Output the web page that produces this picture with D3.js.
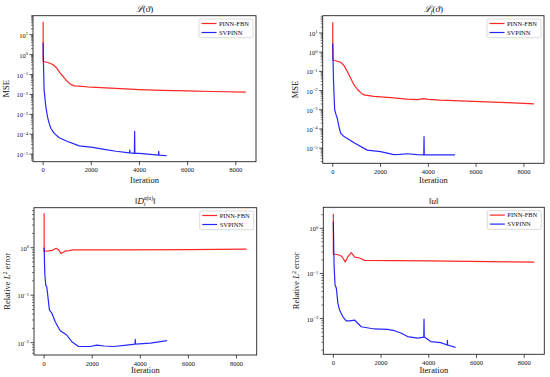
<!DOCTYPE html>
<html><head><meta charset="utf-8">
<script src="https://cdn.jsdelivr.net/npm/d3@7"></script>
<style>body{margin:0;background:#fff} text{font-family:"Liberation Serif","DejaVu Serif",serif;fill:#111}</style>
</head><body><svg id="c" width="550" height="377"></svg>
<script>
// ---------- data ----------
const xTicks = [0, 2000, 4000, 6000, 8000];
const seriesNames = ["PINN-FBN", "SVPINN"];

// Panel 1: L(theta), MSE
const lossIterRed = [0, 0, 10, 200, 400, 550, 700, 850, 1000, 1150, 1300, 1500, 2000, 3000, 4000, 5000, 6000, 7000, 8420];
const lossRed = [45, 0.48, 0.45, 0.40, 0.32, 0.22, 0.12, 0.075, 0.045, 0.032, 0.027, 0.026, 0.023, 0.020, 0.0175, 0.016, 0.015, 0.014, 0.013];
const lossIterBlue = [0, 15, 40, 110, 180, 250, 320, 460, 670, 940, 1500, 2060, 2600, 3030, 3590, 3600, 3610, 3790, 3800, 3810, 4000, 4790, 4800, 4810, 5140];
const lossBlue = [4, 0.3, 0.017, 0.0025, 7.6e-4, 3.5e-4, 2e-4, 1.1e-4, 6.6e-5, 4.7e-5, 2.6e-5, 2.2e-5, 1.7e-5, 1.4e-5, 1.17e-5, 1.6e-5, 1.15e-5, 1.1e-5, 1.4e-4, 1.1e-5, 1.1e-5, 9e-6, 1.4e-5, 9e-6, 8.3e-6];

// Panel 2: L_f(theta), MSE
const lossFIterRed = [0, 0, 10, 330, 470, 610, 750, 890, 1030, 1170, 1300, 1720, 2420, 3100, 3530, 3800, 4000, 4500, 5890, 7280, 8420];
const lossFRed = [36, 0.39, 0.39, 0.30, 0.20, 0.098, 0.044, 0.0195, 0.0117, 0.0078, 0.0059, 0.0050, 0.0043, 0.0036, 0.0034, 0.0038, 0.0035, 0.0032, 0.00275, 0.00234, 0.0020];
const lossFIterBlue = [0, 30, 80, 140, 190, 260, 330, 470, 610, 890, 1440, 2000, 2560, 2800, 3110, 3530, 3810, 3820, 3830, 3940, 5120];
const lossFBlue = [2.9, 0.035, 1e-3, 5.4e-4, 3.6e-4, 1.3e-4, 6e-5, 4e-5, 3.2e-5, 1.9e-5, 7.9e-6, 6.6e-6, 4.6e-6, 4.7e-6, 5.1e-6, 4.6e-6, 4.5e-6, 4e-5, 4.5e-6, 4.5e-6, 4.5e-6];

// Panel 3: ||D_t^alpha||, relative L2 error
const derivIterRed = [0, 0, 10, 200, 350, 500, 600, 700, 800, 900, 1050, 1200, 3000, 6000, 8420];
const derivRed = [5.3, 0.82, 0.85, 0.86, 0.88, 0.97, 0.9, 0.76, 0.8, 0.86, 0.87, 0.9, 0.9, 0.91, 0.93];
const derivIterBlue = [0, 30, 70, 110, 150, 220, 320, 460, 670, 940, 1150, 1430, 1920, 2190, 2500, 2890, 3440, 3780, 3790, 3800, 4420, 5110];
const derivBlue = [1.0, 0.27, 0.16, 0.15, 0.10, 0.049, 0.042, 0.0275, 0.0178, 0.0145, 0.0105, 0.0083, 0.0083, 0.0089, 0.0085, 0.0083, 0.0089, 0.0093, 0.0118, 0.0093, 0.0098, 0.011];

// Panel 4: ||u||, relative L2 error
const uIterRed = [0, 0, 10, 200, 350, 500, 620, 750, 900, 1100, 1300, 4000, 8420];
const uRed = [2.1, 0.27, 0.27, 0.26, 0.24, 0.18, 0.24, 0.29, 0.23, 0.22, 0.195, 0.19, 0.178];
const uIterBlue = [0, 30, 70, 125, 190, 260, 400, 540, 680, 890, 1170, 1720, 2280, 2560, 2830, 3110, 3530, 3790, 3800, 3810, 4080, 4500, 4770, 4780, 4790, 5120];
const uBlue = [1.4, 0.155, 0.056, 0.047, 0.022, 0.0155, 0.011, 0.0089, 0.0089, 0.0093, 0.0066, 0.0059, 0.0058, 0.0054, 0.0048, 0.004, 0.0037, 0.0039, 0.0098, 0.0039, 0.0031, 0.00295, 0.0026, 0.0033, 0.0026, 0.0023];

// ---------- layout ----------
const svg = d3.select("#c");
const colors = ["#ff0000", "#0000ff"];
const xDomain = [-421, 8841];

const panels = [
  {x0: 33, x1: 256, y0: 15.7, y1: 161.7, yDom: [Math.pow(10, -5.38), Math.pow(10, 1.955)],
   title: "L", ylabel: "MSE", xlabelY: 183, titleY: 12,
   red: [lossIterRed, lossRed], blue: [lossIterBlue, lossBlue]},
  {x0: 322.7, x1: 544, y0: 15.7, y1: 163.3, yDom: [Math.pow(10, -5.79), Math.pow(10, 1.90)],
   title: "Lf", ylabel: "MSE", xlabelY: 183, titleY: 12,
   red: [lossFIterRed, lossFRed], blue: [lossFIterBlue, lossFBlue]},
  {x0: 34, x1: 256.7, y0: 207.7, y1: 355, yDom: [Math.pow(10, -2.26), Math.pow(10, 0.842)],
   title: "D", ylabel: "L2", xlabelY: 373, titleY: 203.5,
   red: [derivIterRed, derivRed], blue: [derivIterBlue, derivBlue]},
  {x0: 323.3, x1: 544.3, y0: 207.3, y1: 354.3, yDom: [Math.pow(10, -2.79), Math.pow(10, 0.465)],
   title: "u", ylabel: "L2", xlabelY: 373, titleY: 203.5,
   red: [uIterRed, uRed], blue: [uIterBlue, uBlue]}
];

function supLabel(sel, base, exp, fs) {
  sel.append("tspan").text(base);
  sel.append("tspan").attr("dy", -fs * 0.4).attr("font-size", fs * 0.72).text(exp);
}

function drawTitle(g, p) {
  const cx = (p.x0 + p.x1) / 2;
  const t = g.append("text").attr("x", cx).attr("y", p.titleY).attr("text-anchor", "middle")
    .attr("font-size", 9);
  if (p.title === "L") {
    t.append("tspan").attr("font-style", "italic").text("ℒ");
    t.append("tspan").text("(");
    t.append("tspan").attr("font-style", "italic").text("ϑ");
    t.append("tspan").text(")");
  } else if (p.title === "Lf") {
    t.append("tspan").attr("font-style", "italic").text("ℒ");
    t.append("tspan").attr("font-style", "italic").attr("font-size", 6.5).attr("dy", 2).text("f");
    t.append("tspan").attr("dy", -2).text("(");
    t.append("tspan").attr("font-style", "italic").text("ϑ");
    t.append("tspan").text(")");
  } else if (p.title === "D") {
    t.append("tspan").text("‖");
    t.append("tspan").attr("font-style", "italic").text("D");
    t.append("tspan").attr("font-style", "italic").attr("font-size", 5.5).attr("dy", 2).text("t");
    t.append("tspan").attr("font-style", "italic").attr("font-size", 5.5).attr("dx", -2).attr("dy", -6).text("α(α)");
    t.append("tspan").attr("dy", 4).text("‖");
  } else {
    t.append("tspan").text("‖");
    t.append("tspan").attr("font-style", "italic").text("u");
    t.append("tspan").text("‖");
  }
}

panels.forEach((p, i) => {
  const g = svg.append("g");
  const x = d3.scaleLinear().domain(xDomain).range([p.x0, p.x1]);
  const y = d3.scaleLog().domain(p.yDom).range([p.y1, p.y0]);
  const cid = "clip" + i;
  g.append("clipPath").attr("id", cid).append("rect")
    .attr("x", p.x0).attr("y", p.y0).attr("width", p.x1 - p.x0).attr("height", p.y1 - p.y0);

  const line = d3.line().x(d => x(d[0])).y(d => y(d[1]));
  [p.red, p.blue].forEach((s, k) => {
    const pts = s[0].map((it, j) => [it, s[1][j]]);
    g.append("path").attr("clip-path", `url(#${cid})`).attr("d", line(pts))
      .attr("fill", "none").attr("stroke", colors[k]).attr("stroke-width", 1.2)
      .attr("stroke-opacity", 0.85).attr("stroke-linejoin", "round");
  });

  // frame
  g.append("rect").attr("x", p.x0).attr("y", p.y0).attr("width", p.x1 - p.x0).attr("height", p.y1 - p.y0)
    .attr("fill", "none").attr("stroke", "#222").attr("stroke-width", 0.9);

  // x ticks
  xTicks.forEach(v => {
    const xx = x(v);
    g.append("line").attr("x1", xx).attr("x2", xx).attr("y1", p.y1).attr("y2", p.y1 + 3.5)
      .attr("stroke", "#222").attr("stroke-width", 0.8);
    g.append("text").attr("x", xx).attr("y", p.y1 + 10.5).attr("text-anchor", "middle")
      .attr("font-size", 6.5).text(String(v));
  });

  // y ticks (log)
  const lmin = Math.log10(p.yDom[0]), lmax = Math.log10(p.yDom[1]);
  for (let e = Math.floor(lmin); e <= Math.ceil(lmax); e++) {
    for (let k = 1; k <= 9; k++) {
      const v = k * Math.pow(10, e);
      if (v < p.yDom[0] || v > p.yDom[1]) continue;
      const yy = y(v);
      g.append("line").attr("x1", p.x0 - (k === 1 ? 3.5 : 2)).attr("x2", p.x0).attr("y1", yy).attr("y2", yy)
        .attr("stroke", "#222").attr("stroke-width", k === 1 ? 0.8 : 0.6);
      if (k === 1) {
        const t = g.append("text").attr("x", p.x0 - 5).attr("y", yy + 3).attr("text-anchor", "end")
          .attr("font-size", 6.5);
        supLabel(t, "10", e < 0 ? "−" + (-e) : String(e), 6.5);
      }
    }
  }

  // axis labels
  const cx = (p.x0 + p.x1) / 2;
  g.append("text").attr("x", cx).attr("y", p.xlabelY).attr("text-anchor", "middle")
    .attr("font-size", 8.5).text("Iteration");
  const ly = (p.y0 + p.y1) / 2;
  const lx = p.x0 - 24.5;
  const yl = g.append("text").attr("transform", `translate(${lx},${ly}) rotate(-90)`)
    .attr("text-anchor", "middle").attr("font-size", 8.5);
  if (p.ylabel === "MSE") yl.text("MSE");
  else {
    yl.append("tspan").text("Relative ");
    yl.append("tspan").attr("font-style", "italic").text("L");
    yl.append("tspan").attr("font-size", 6).attr("dy", -3).text("2");
    yl.append("tspan").attr("dy", 3).text(" error");
  }

  drawTitle(g, p);

  // legend
  const lw = 54, lh = 18.7;
  const bx = p.x1 - 3 - lw, by = p.y0 + 3.3;
  g.append("rect").attr("x", bx).attr("y", by).attr("width", lw).attr("height", lh).attr("rx", 1.5)
    .attr("fill", "#fff").attr("fill-opacity", 0.8).attr("stroke", "#ccc").attr("stroke-width", 0.7);
  seriesNames.forEach((name, k) => {
    const yy = by + 4.5 + k * 9;
    g.append("line").attr("x1", bx + 2.5).attr("x2", bx + 17.5).attr("y1", yy).attr("y2", yy)
      .attr("stroke", colors[k]).attr("stroke-width", 1.2).attr("stroke-opacity", 0.85);
    g.append("text").attr("x", bx + 20).attr("y", yy + 2.3).attr("font-size", 6.5).text(name);
  });
});
</script></body></html>
